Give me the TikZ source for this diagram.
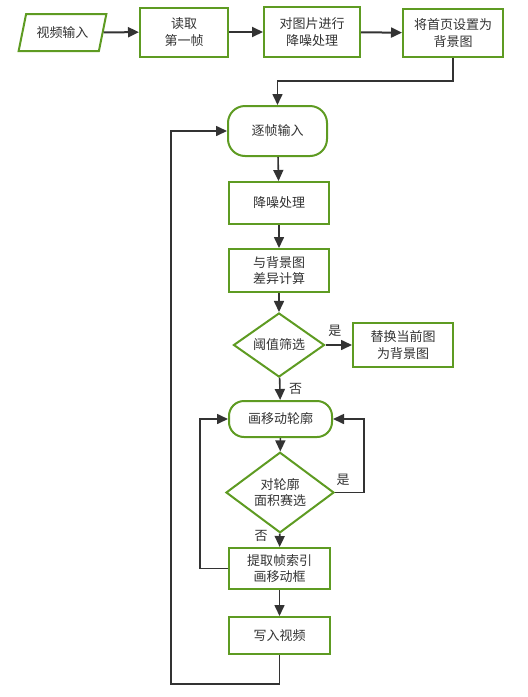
\documentclass[tikz,border=0pt]{standalone}
\usepackage{fontspec}
\setmainfont{Noto Sans CJK SC}
\usepackage{tikz}
\usetikzlibrary{shapes.geometric,shapes.misc,arrows.meta,calc}
\definecolor{boxgreen}{RGB}{94,155,34}
\definecolor{linegray}{RGB}{51,51,51}

\begin{document}
\begin{tikzpicture}[x=1pt,y=-1pt,
	>={Triangle[length=11pt,width=10pt]},
	font=\fontsize{13}{16.5}\selectfont, text=linegray,
	box/.style={draw=boxgreen, line width=2pt, fill=white, align=center,
		minimum width=100pt, inner sep=0pt},
	terminal/.style={box, rounded corners=17pt},
	decide/.style={draw=boxgreen, line width=2pt, diamond, align=center, inner sep=0pt},
	iobox/.style={draw=boxgreen, line width=2pt, trapezium, trapezium left angle=66,
		trapezium right angle=114, trapezium stretches=true, inner sep=0pt},
	flow/.style={->, draw=linegray, line width=1.6pt},
	lbl/.style={font=\fontsize{13}{14}\selectfont}]
	\useasboundingbox (0,0) rectangle (528,697);
	%top row
	\node[iobox, minimum width=88pt, minimum height=37pt] (input) at (62.5,32.5) {视频输入};
	\node[box, minimum width=88pt, minimum height=49pt] (read) at (184,32) {读取\\第一帧};
	\node[box, minimum width=96pt, minimum height=50pt] (denoiseA) at (312,32) {对图片进行\\降噪处理};
	\node[box, minimum width=100pt, minimum height=48pt] (setbg) at (453,33) {将首页设置为\\背景图};
	%main column
	\node[terminal, minimum width=99pt, minimum height=50pt] (frame) at (277.5,131) {逐帧输入};
	\node[box, minimum height=42pt] (denoiseB) at (279,203) {降噪处理};
	\node[box, minimum height=43pt] (diff) at (279,270.5) {与背景图\\差异计算};
	\node[decide, minimum width=91pt, minimum height=62pt] (thresh) at (279,345) {阈值筛选};
	\node[box, minimum height=44pt] (replace) at (403,345) {替换当前图\\为背景图};
	\node[terminal, rounded corners=15pt, minimum width=103pt, minimum height=36pt] (contour) at (280.5,419) {画移动轮廓};
	\node[decide, minimum width=108pt, minimum height=61pt] (area) at (280,492.5) {对轮廓\\面积赛选};
	\node[box, minimum width=101pt, minimum height=41pt] (extract) at (279.5,568.5) {提取帧索引\\画移动框};
	\node[box, minimum width=101pt, minimum height=37pt] (write) at (279.5,635.5) {写入视频};
	%helper points
	\coordinate (drop) at (453,81);
	\coordinate (back) at (364,419);
	\coordinate (inner) at (200,568);
	\coordinate (outer) at (171,684);
	%connectors
	\draw[flow, line width=2pt] (input) -- (read);
	\draw[flow, line width=2pt] (read) -- (denoiseA);
	\draw[flow, line width=2pt] (denoiseA) -- (setbg);
	\draw[flow] (setbg.south) -- (drop) -| (frame.north);
	\draw[flow] (frame) -- (denoiseB);
	\draw[flow] (denoiseB) -- (diff);
	\draw[flow] (diff) -- (thresh);
	\draw[flow] (thresh) -- (replace) node[lbl, pos=0.35, above=4pt] {是};
	\draw[flow] (thresh) -- (contour) node[lbl, midway, right=5pt] {否};
	\draw[flow] (contour) -- (area);
	\draw[flow] (area.east) -| (back) -- (contour.east);
	\node[lbl] (yesB) at (343,480) {是};
	\draw[flow] (area) -- (extract) node[lbl, pos=0.2, left=8pt] {否};
	\draw[flow] (extract.west) -| (inner) |- (contour.west);
	\draw[flow] (extract) -- (write);
	\draw[flow] (write.south) |- (outer) |- (frame.west);
\end{tikzpicture}
\end{document}
